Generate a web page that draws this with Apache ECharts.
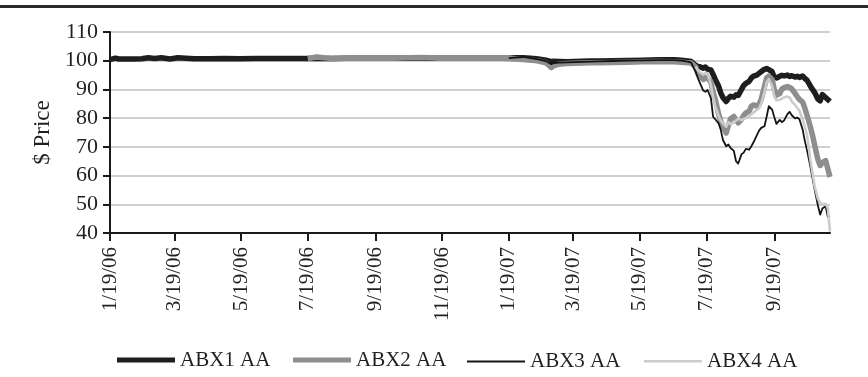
<!DOCTYPE html>
<html>
<head>
<meta charset="utf-8">
<script src="https://cdn.jsdelivr.net/npm/echarts@6/dist/echarts.min.js"></script>
<style>
html, body { margin: 0; padding: 0; background: #fff; }
#chart { width: 868px; height: 377px; }
</style>
</head>
<body>
<div id="chart"></div>
<script>
// Observation dates (trading days sampled)
const dates = [
  '2006-01-19','2006-01-24','2006-01-27','2006-02-09','2006-02-17','2006-02-23','2006-03-01','2006-03-07',
  '2006-03-15','2006-03-22','2006-04-06','2006-04-20','2006-05-04','2006-05-18','2006-06-01','2006-06-15',
  '2006-06-29','2006-07-13','2006-07-19','2006-07-27','2006-08-03','2006-08-10','2006-08-24','2006-09-07',
  '2006-09-21','2006-10-05','2006-10-19','2006-11-02','2006-11-16','2006-11-30','2006-12-14','2006-12-28',
  '2007-01-11','2007-01-19','2007-01-25','2007-02-01','2007-02-08','2007-02-15','2007-02-22','2007-02-27',
  '2007-03-01','2007-03-06','2007-03-13','2007-03-20','2007-03-27','2007-04-03','2007-04-12','2007-04-24',
  '2007-05-08','2007-05-22','2007-06-05','2007-06-19','2007-06-26',
  '2007-07-02','2007-07-05','2007-07-06','2007-07-09','2007-07-11','2007-07-13','2007-07-16','2007-07-18',
  '2007-07-20','2007-07-23','2007-07-25','2007-07-27','2007-07-30','2007-08-01','2007-08-03','2007-08-06',
  '2007-08-08','2007-08-10','2007-08-13','2007-08-15','2007-08-17','2007-08-20','2007-08-22','2007-08-24',
  '2007-08-27','2007-08-29','2007-08-31','2007-09-03','2007-09-05','2007-09-07','2007-09-10','2007-09-12',
  '2007-09-14','2007-09-17','2007-09-19','2007-09-21','2007-09-24','2007-09-26','2007-09-28','2007-10-01',
  '2007-10-03','2007-10-05','2007-10-08','2007-10-10','2007-10-12','2007-10-15','2007-10-17','2007-10-19',
  '2007-10-22','2007-10-24','2007-10-26','2007-10-29','2007-10-31','2007-11-02','2007-11-05','2007-11-07',
  '2007-11-09'
];

// ABX 06-1 AA
const abx1 = [
  100.4,100.9,100.6,100.6,100.7,101.0,100.8,101.0,
  100.6,101.0,100.7,100.7,100.8,100.7,100.8,100.8,
  100.8,100.8,100.8,100.8,100.8,100.8,100.9,100.9,
  100.9,100.9,100.9,100.9,100.9,100.9,100.9,100.9,
  100.9,100.9,101.0,101.0,100.9,100.6,100.2,99.7,
  99.8,99.7,99.6,99.7,99.8,99.9,99.9,100.0,
  100.1,100.2,100.3,100.3,100.2,
  99.9,99.7,99.3,98.4,98.0,97.9,97.4,97.8,
  97.0,96.8,95.2,93.5,91.2,88.8,87.2,85.8,
  86.9,87.6,87.3,88.1,87.9,90.0,91.4,92.1,
  92.8,94.0,94.6,95.0,95.6,96.2,97.0,97.3,
  96.9,96.2,94.2,94.0,94.6,94.9,94.7,95.0,
  94.5,94.8,94.3,94.6,94.2,94.7,93.8,93.2,
  91.2,90.0,88.9,86.6,86.0,88.2,87.2,86.5,
  85.8
];

// ABX 06-2 AA
const abx2 = [
  null,null,null,null,null,null,null,null,
  null,null,null,null,null,null,null,null,
  null,null,100.8,101.3,101.0,100.8,100.9,100.9,
  100.9,100.9,101.0,101.1,100.9,100.9,100.9,100.9,
  100.9,100.8,100.6,100.4,100.2,99.9,99.3,97.6,
  98.2,98.8,99.0,99.1,99.2,99.3,99.3,99.4,
  99.5,99.6,99.7,99.6,99.5,
  99.3,99.2,99.0,97.8,95.6,94.6,93.5,94.2,
  94.0,92.5,89.0,86.5,81.5,79.0,77.2,74.8,
  77.5,79.8,80.6,79.4,78.4,79.6,81.0,81.8,
  82.4,84.2,84.6,84.2,84.8,86.5,91.0,94.0,
  94.6,93.5,90.0,88.0,88.6,90.2,90.6,91.0,
  90.7,90.2,88.6,87.5,86.5,85.6,83.4,81.0,
  77.0,74.0,70.5,65.5,63.5,64.5,65.2,62.4,
  59.5
];

// ABX 07-1 AA
const abx3 = [
  null,null,null,null,null,null,null,null,
  null,null,null,null,null,null,null,null,
  null,null,null,null,null,null,null,null,
  null,null,null,null,null,null,null,null,
  null,100.9,101.1,101.3,100.9,100.5,99.9,98.8,
  99.2,99.3,99.4,99.5,99.6,99.7,99.8,99.9,
  100.0,100.1,100.2,100.2,100.0,
  99.7,99.3,98.5,96.2,94.0,92.2,89.6,89.2,
  89.8,87.0,80.5,79.6,78.2,76.0,72.4,70.2,
  70.8,69.6,68.6,65.0,64.2,67.4,68.0,69.3,
  69.0,70.2,71.6,74.0,75.6,76.6,77.2,80.5,
  84.2,83.0,80.4,78.0,79.4,78.6,79.2,81.4,
  82.2,81.0,79.9,80.2,79.6,76.0,72.0,68.8,
  63.2,59.0,55.0,49.5,46.4,48.5,49.3,45.6,
  45.8
];

// ABX 07-2 AA
const abx4 = [
  null,null,null,null,null,null,null,null,
  null,null,null,null,null,null,null,null,
  null,null,null,null,null,null,null,null,
  null,null,null,null,null,null,null,null,
  null,null,null,null,null,null,null,null,
  null,null,null,null,null,null,null,null,
  null,null,null,null,null,
  null,null,null,98.0,96.8,96.0,95.2,95.8,
  95.6,91.5,87.5,84.2,80.8,79.2,78.2,77.0,
  78.6,78.0,78.4,79.2,79.8,79.3,79.7,80.0,
  80.6,81.4,82.0,82.9,83.4,85.0,89.2,92.4,
  93.6,91.2,87.6,86.2,86.4,86.8,87.2,87.5,
  87.2,85.8,84.6,83.6,82.6,79.6,77.0,74.2,
  65.5,60.8,56.2,51.8,50.6,50.0,50.2,48.5,
  40.5
];

const seriesNames = ['ABX1 AA', 'ABX2 AA', 'ABX3 AA', 'ABX4 AA'];
const tickDates = [
  '2006-01-19','2006-03-19','2006-05-19','2006-07-19','2006-09-19','2006-11-19',
  '2007-01-19','2007-03-19','2007-05-19','2007-07-19','2007-09-19'
];
const axisStart = '2006-01-19';
const axisEnd = '2007-11-09';

// The x axis counts calendar days from the first observation date.
const DAY = 86400000;
function utc(s) {
  const p = s.split('-').map(Number);
  return Date.UTC(p[0], p[1] - 1, p[2]);
}
const t0 = utc(axisStart);
function dayNum(s) { return Math.round((utc(s) - t0) / DAY); }
function fmtDay(n) {
  const d = new Date(t0 + Math.round(n) * DAY);
  return (d.getUTCMonth() + 1) + '/' + d.getUTCDate() + '/' + String(d.getUTCFullYear()).slice(2);
}
function pairs(values) {
  const out = [];
  for (let i = 0; i < dates.length; i++) {
    if (values[i] != null) out.push([dayNum(dates[i]), values[i]]);
  }
  return out;
}

const FONT = 'Liberation Serif';
const TXT = '#231f20';
const styles = [
  { color: '#1e1e1e', width: 5.5 },
  { color: '#8e8e8e', width: 5.5 },
  { color: '#141414', width: 1.8 },
  { color: '#cccccc', width: 2.6 }
];
const legendLeft = [117, 293, 467, 644];
const legendIconH = [5, 5, 2, 2.5];
const values = [abx1, abx2, abx3, abx4];
const tickDays = tickDates.map(dayNum);

const chart = echarts.init(document.getElementById('chart'), null, { renderer: 'canvas' });

const option = {
  animation: false,
  backgroundColor: '#fff',
  textStyle: { fontFamily: FONT, color: TXT },
  grid: { left: 110, top: 32, width: 720, height: 201, containLabel: false },
  graphic: [
    { type: 'rect', left: 0, top: 5, shape: { width: 868, height: 3 }, style: { fill: '#2b2b2b' } }
  ],
  legend: seriesNames.map((n, i) => ({
    data: [n],
    left: legendLeft[i],
    top: 352 - legendIconH[i] / 2,
    icon: 'rect',
    itemWidth: 58,
    itemHeight: legendIconH[i],
    itemStyle: { borderWidth: 0 },
    selectedMode: false,
    padding: 0,
    textStyle: { fontFamily: FONT, fontSize: 21, color: TXT }
  })),
  xAxis: {
    type: 'value',
    min: 0,
    max: dayNum(axisEnd),
    axisLine: { show: true, lineStyle: { color: '#1a1a1a', width: 2 } },
    axisTick: {
      show: true,
      length: 8,
      lineStyle: { color: '#1a1a1a', width: 2 },
      customValues: tickDays
    },
    axisLabel: {
      customValues: tickDays,
      rotate: 90,
      margin: 14,
      fontFamily: FONT,
      fontSize: 21,
      color: TXT,
      formatter: fmtDay
    },
    splitLine: { show: false }
  },
  yAxis: {
    type: 'value',
    min: 40,
    max: 110,
    interval: 10,
    name: '$ Price',
    nameLocation: 'middle',
    nameRotate: 90,
    nameGap: 54,
    nameTextStyle: { fontFamily: FONT, fontSize: 23, color: TXT },
    axisLine: { show: true, lineStyle: { color: '#1a1a1a', width: 2 } },
    axisTick: { show: true, inside: false, length: 7, lineStyle: { color: '#1a1a1a', width: 2 } },
    axisLabel: { margin: 12, fontFamily: FONT, fontSize: 22, color: TXT },
    splitLine: { show: true, lineStyle: { color: '#d0d0d0', width: 2 } }
  },
  series: seriesNames.map((n, i) => ({
    name: n,
    type: 'line',
    data: pairs(values[i]),
    showSymbol: false,
    symbol: 'none',
    connectNulls: false,
    lineStyle: { color: styles[i].color, width: styles[i].width, join: 'round' },
    itemStyle: { color: styles[i].color, borderWidth: 0 },
    emphasis: { disabled: true }
  }))
};

chart.setOption(option);
</script>
</body>
</html>
